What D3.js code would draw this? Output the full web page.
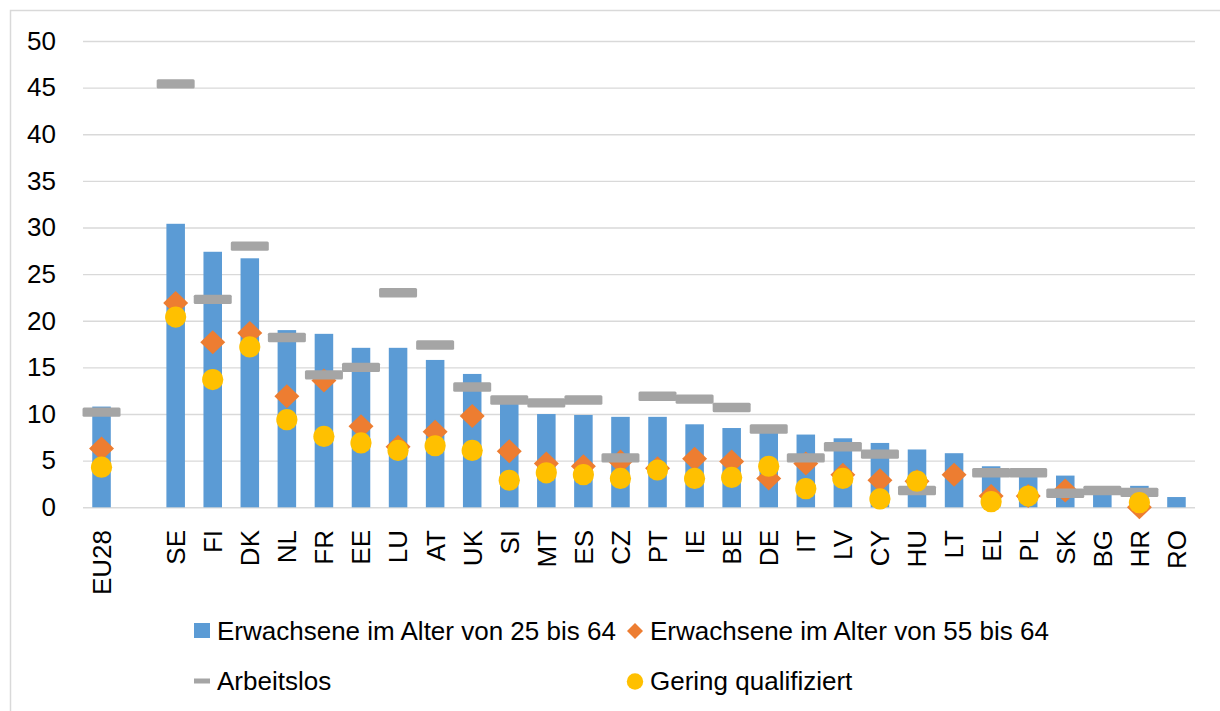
<!DOCTYPE html>
<html>
<head>
<meta charset="utf-8">
<script src="https://cdn.jsdelivr.net/npm/d3@7"></script>
<style>
  body { margin: 0; background: #fff; }
  svg text { font-family: "Liberation Sans", Arial, sans-serif; fill: #000; }
</style>
</head>
<body>
<div id="chart"></div>
<script>
// Kategorien (leerer Eintrag = Lücke nach EU28)
var countries = ["EU28", "", "SE", "FI", "DK", "NL", "FR", "EE", "LU", "AT", "UK", "SI", "MT", "ES", "CZ",
  "PT", "IE", "BE", "DE", "IT", "LV", "CY", "HU", "LT", "EL", "PL", "SK", "BG", "HR", "RO"];

var adults2564 = [10.8, null, 30.4, 27.4, 26.7, 19.0, 18.6, 17.1, 17.1, 15.8, 14.3, 11.3, 10.0, 9.9, 9.7,
  9.7, 8.9, 8.5, 8.2, 7.8, 7.4, 6.9, 6.2, 5.8, 4.4, 3.6, 3.4, 1.7, 2.3, 1.1];

var adults5564 = [6.3, null, 21.9, 17.7, 18.7, 11.9, 13.6, 8.7, 6.5, 8.1, 9.8, 6.0, 4.7, 4.4, 4.9,
  4.2, 5.2, 4.9, 3.1, 4.7, 3.5, 2.9, 2.8, 3.5, 1.2, 1.2, 1.8, null, 0.0, null];

var unemployed = [10.2, null, 45.4, 22.3, 28.0, 18.2, 14.2, 15.0, 23.0, 17.4, 12.9, 11.5, 11.2, 11.5, 5.3,
  11.9, 11.6, 10.7, 8.4, 5.3, 6.5, 5.7, 1.8, null, 3.7, 3.7, 1.5, 1.8, 1.6, null];

var lowSkilled = [4.3, null, 20.4, 13.7, 17.2, 9.4, 7.6, 6.9, 6.1, 6.6, 6.1, 2.9, 3.7, 3.5, 3.1,
  4.0, 3.1, 3.2, 4.4, 2.0, 3.1, 0.9, 2.8, null, 0.6, 1.2, null, null, 0.5, null];

var yTicks = [0, 5, 10, 15, 20, 25, 30, 35, 40, 45, 50];

var legendLabels = ["Erwachsene im Alter von 25 bis 64", "Erwachsene im Alter von 55 bis 64",
  "Arbeitslos", "Gering qualifiziert"];

var colors = { bar: "#5b9bd5", diamond: "#ed7d31", dash: "#a5a5a5", circle: "#ffc000", grid: "#d9d9d9" };

var chart = { width: 1220, height: 711, left: 83, right: 1195, top: 41, bottom: 507.3 };

var svg = d3.select("#chart")
  .append("svg")
  .attr("width", chart.width)
  .attr("height", chart.height);

// Rahmen (nur links und oben sichtbar)
svg.append("rect")
  .attr("x", 10.5).attr("y", 10.5)
  .attr("width", 1240).attr("height", 740)
  .attr("fill", "none")
  .attr("stroke", colors.grid)
  .attr("stroke-width", 1.5);

var x = d3.scaleBand()
  .domain(countries)
  .range([chart.left, chart.right])
  .paddingInner(0.5)
  .paddingOuter(0.25);

var y = d3.scaleLinear()
  .domain([0, 50])
  .range([chart.bottom, chart.top]);

var cx = (d) => x(d) + x.bandwidth() / 2;

/* Gitterlinien + y-Achse */
var yAxis = svg.append("g")
  .attr("transform", "translate(" + chart.left + ",0)")
  .call(d3.axisLeft(y).tickValues(yTicks).tickSize(-(chart.right - chart.left)).tickPadding(27));
yAxis.select(".domain").remove();
yAxis.selectAll(".tick line").attr("stroke", colors.grid).attr("stroke-width", 1.4);
yAxis.selectAll(".tick text")
  .style("font-size", "26px")
  .style("font-family", "'Liberation Sans', Arial, sans-serif")
  .attr("fill", "#000");

/* x-Beschriftung */
svg.append("g")
  .selectAll("text")
  .data(countries.filter((c) => c !== ""))
  .enter()
  .append("text")
  .attr("transform", (d) => "translate(" + cx(d) + ",530) rotate(-90)")
  .attr("text-anchor", "end")
  .attr("dy", "0.36em")
  .style("font-size", "26px")
  .text((d) => d);

var rows = countries.map((c, i) => ({
  c: c, bar: adults2564[i], dia: adults5564[i], dash: unemployed[i], dot: lowSkilled[i]
}));

/* Balken */
svg.append("g")
  .selectAll("rect")
  .data(rows.filter((d) => d.bar != null))
  .enter()
  .append("rect")
  .attr("x", (d) => x(d.c))
  .attr("y", (d) => y(d.bar))
  .attr("width", x.bandwidth())
  .attr("height", (d) => y(0) - y(d.bar))
  .attr("fill", colors.bar);

/* Rauten */
svg.append("g")
  .selectAll("path")
  .data(rows.filter((d) => d.dia != null))
  .enter()
  .append("path")
  .attr("transform", (d) => "translate(" + cx(d.c) + "," + y(d.dia) + ")")
  .attr("d", "M0,-12L12.5,0L0,12L-12.5,0Z")
  .attr("fill", colors.diamond);

/* Striche */
svg.append("g")
  .selectAll("rect")
  .data(rows.filter((d) => d.dash != null))
  .enter()
  .append("rect")
  .attr("x", (d) => cx(d.c) - 19)
  .attr("y", (d) => y(d.dash) - 4.7)
  .attr("width", 38)
  .attr("height", 9.4)
  .attr("rx", 1.5)
  .attr("fill", colors.dash);

/* Kreise */
svg.append("g")
  .selectAll("circle")
  .data(rows.filter((d) => d.dot != null))
  .enter()
  .append("circle")
  .attr("cx", (d) => cx(d.c))
  .attr("cy", (d) => y(d.dot))
  .attr("r", 10.6)
  .attr("fill", colors.circle);

/* Legende */
var legend = svg.append("g").style("font-size", "26px");
var legendPos = [[202, 631], [635, 631], [202, 681], [635, 681]];

legend.append("rect").attr("x", 194).attr("y", 623).attr("width", 16).attr("height", 15).attr("fill", colors.bar);
legend.append("path").attr("transform", "translate(635,631)").attr("d", "M0,-8L8,0L0,8L-8,0Z").attr("fill", colors.diamond);
legend.append("rect").attr("x", 194).attr("y", 678.5).attr("width", 16).attr("height", 5).attr("fill", colors.dash);
legend.append("circle").attr("cx", 635).attr("cy", 681.5).attr("r", 8.2).attr("fill", colors.circle);

legend.selectAll("text")
  .data(legendLabels)
  .enter()
  .append("text")
  .attr("x", (d, i) => legendPos[i][0] + 15)
  .attr("y", (d, i) => legendPos[i][1])
  .attr("dy", "0.36em")
  .text((d) => d);
</script>
</body>
</html>
